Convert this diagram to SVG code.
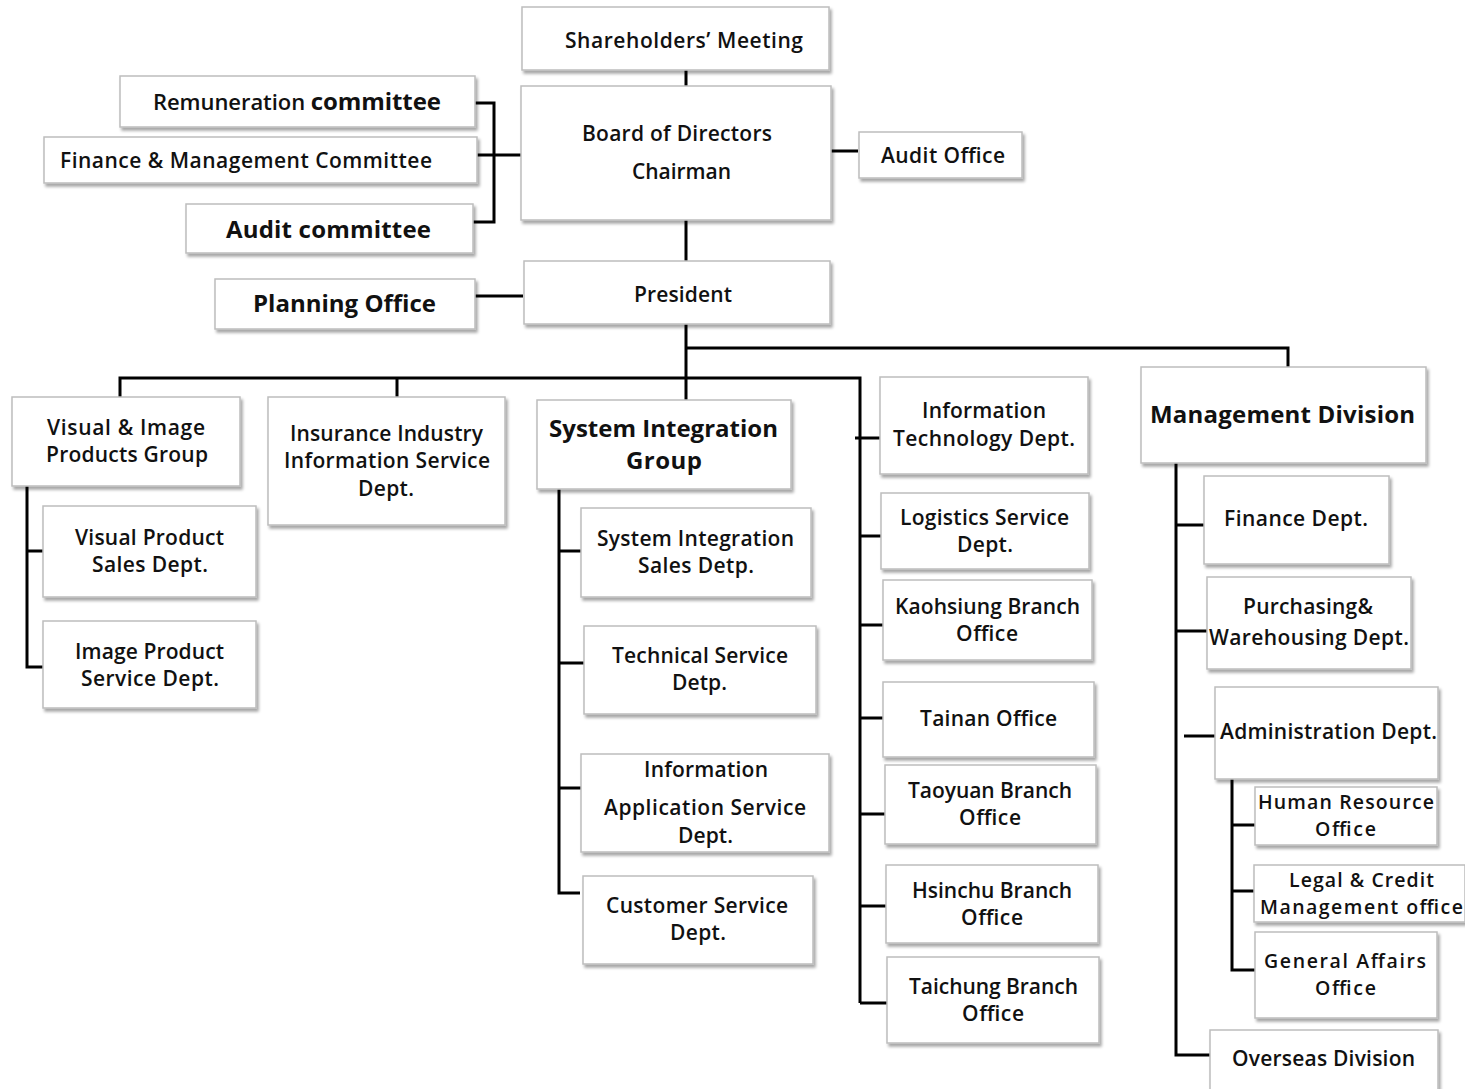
<svg xmlns="http://www.w3.org/2000/svg" width="1465" height="1089" viewBox="0 0 1465 1089">
<defs>
<filter id="sh" x="-10%" y="-10%" width="120%" height="130%">
<feDropShadow dx="2" dy="3" stdDeviation="1.5" flood-color="#000" flood-opacity="0.35"/>
</filter>
</defs>
<style>
.b{fill:#fff;stroke:#bdbdbd;stroke-width:1.5;filter:url(#sh)}
text{font-family:"Open Sans","Liberation Sans",sans-serif;font-size:21px;font-weight:600;fill:#111}
.k{font-weight:700;font-size:24px}
.m{font-size:22px}
.s{font-size:19.5px}
.c{fill:none;stroke:#000;stroke-width:3}
</style>
<rect width="1465" height="1089" fill="#fff"/>
<g id="connectors">
<path class="c" d="M686 70V86M686 220V261M831 151H858M475 103H494V222H473M477 155H521M475 296H523"/>
<path class="c" d="M686 324V400M686 348H1288V367M120 397V378H860V1003M397 378V397"/>
<path class="c" d="M27 486V667H43M27 551H43"/>
<path class="c" d="M559 489V893H580M559 551H581M559 663H584M559 788H581"/>
<path class="c" d="M855 438H880M860 536H881M860 625H883M860 718H883M860 814H885M860 906H886M860 1003H887"/>
<path class="c" d="M1176 463V1055H1210M1176 525H1204M1176 631H1207M1184 736H1215"/>
<path class="c" d="M1232 779V970H1255M1232 825H1255M1232 891H1254"/>
</g>
<g id="n-shareholders"><rect class="b" x="522" y="7" width="307" height="63"/><text x="565" y="48" textLength="238">Shareholders’ Meeting</text></g>
<g id="n-board"><rect class="b" x="521" y="86" width="310" height="134"/><text x="582" y="141" textLength="190">Board of Directors</text><text x="632" y="179" textLength="99">Chairman</text></g>
<g id="n-auditoffice"><rect class="b" x="859" y="132" width="163" height="46"/><text x="881" y="163" textLength="124">Audit Office</text></g>
<g id="n-remuneration"><rect class="b" x="120" y="76" width="355" height="51"/><text class="m" x="153" y="110" textLength="288">Remuneration <tspan style="font-weight:700;font-size:24px">committee</tspan></text></g>
<g id="n-finmgmt"><rect class="b" x="44" y="137" width="433" height="46"/><text x="60" y="168" textLength="372">Finance &amp; Management Committee</text></g>
<g id="n-auditcomm"><rect class="b" x="186" y="204" width="287" height="49"/><text class="k" x="226" y="238" textLength="205">Audit committee</text></g>
<g id="n-planning"><rect class="b" x="215" y="279" width="260" height="50"/><text class="k" x="253" y="312" textLength="183">Planning Office</text></g>
<g id="n-president"><rect class="b" x="524" y="261" width="306" height="63"/><text x="634" y="302" textLength="98">President</text></g>
<g id="n-visualgroup"><rect class="b" x="12" y="397" width="228" height="89"/><text x="47" y="435" textLength="158">Visual &amp; Image</text><text x="46" y="462" textLength="162">Products Group</text></g>
<g id="n-insurance"><rect class="b" x="268" y="397" width="237" height="128"/><text x="290" y="441" textLength="193">Insurance Industry</text><text x="284" y="468" textLength="206">Information Service</text><text x="358" y="496" textLength="56">Dept.</text></g>
<g id="n-visualsales"><rect class="b" x="43" y="506" width="213" height="91"/><text x="75" y="545" textLength="149">Visual Product</text><text x="92" y="572" textLength="116">Sales Dept.</text></g>
<g id="n-imageservice"><rect class="b" x="43" y="621" width="213" height="87"/><text x="75" y="659" textLength="149">Image Product</text><text x="81" y="686" textLength="138">Service Dept.</text></g>
<g id="n-sigroup"><rect class="b" x="537" y="400" width="254" height="89"/><text class="k" x="549" y="437" textLength="229">System Integration</text><text class="k" x="626" y="469" textLength="76">Group</text></g>
<g id="n-sisales"><rect class="b" x="581" y="508" width="230" height="89"/><text x="597" y="546" textLength="197">System Integration</text><text x="638" y="573" textLength="116">Sales Detp.</text></g>
<g id="n-technical"><rect class="b" x="584" y="626" width="232" height="88"/><text x="612" y="663" textLength="176">Technical Service</text><text x="672" y="690" textLength="55">Detp.</text></g>
<g id="n-infoapp"><rect class="b" x="581" y="754" width="248" height="98"/><text x="644" y="777" textLength="124">Information</text><text x="604" y="815" textLength="202">Application Service</text><text x="678" y="843" textLength="55">Dept.</text></g>
<g id="n-customer"><rect class="b" x="583" y="876" width="230" height="88"/><text x="606" y="913" textLength="182">Customer Service</text><text x="670" y="940" textLength="56">Dept.</text></g>
<g id="n-it"><rect class="b" x="880" y="377" width="208" height="97"/><text x="922" y="418" textLength="124">Information</text><text x="893" y="446" textLength="182">Technology Dept.</text></g>
<g id="n-logistics"><rect class="b" x="881" y="493" width="208" height="76"/><text x="900" y="525" textLength="169">Logistics Service</text><text x="957" y="552" textLength="56">Dept.</text></g>
<g id="n-kaohsiung"><rect class="b" x="883" y="580" width="209" height="80"/><text x="895" y="614" textLength="185">Kaohsiung Branch</text><text x="956" y="641" textLength="62">Office</text></g>
<g id="n-tainan"><rect class="b" x="883" y="682" width="211" height="75"/><text x="920" y="726" textLength="137">Tainan Office</text></g>
<g id="n-taoyuan"><rect class="b" x="885" y="765" width="211" height="79"/><text x="908" y="798" textLength="164">Taoyuan Branch</text><text x="959" y="825" textLength="62">Office</text></g>
<g id="n-hsinchu"><rect class="b" x="886" y="865" width="212" height="78"/><text x="912" y="898" textLength="160">Hsinchu Branch</text><text x="961" y="925" textLength="62">Office</text></g>
<g id="n-taichung"><rect class="b" x="887" y="957" width="212" height="86"/><text x="909" y="994" textLength="169">Taichung Branch</text><text x="962" y="1021" textLength="62">Office</text></g>
<g id="n-mgmt"><rect class="b" x="1141" y="367" width="285" height="96"/><text class="k" x="1150" y="423" textLength="265">Management Division</text></g>
<g id="n-finance"><rect class="b" x="1204" y="476" width="185" height="88"/><text x="1224" y="526" textLength="144">Finance  Dept.</text></g>
<g id="n-purchasing"><rect class="b" x="1207" y="577" width="204" height="92"/><text x="1243" y="614" textLength="130">Purchasing&amp;</text><text x="1209" y="645" textLength="200">Warehousing Dept.</text></g>
<g id="n-admin"><rect class="b" x="1215" y="687" width="223" height="92"/><text x="1220" y="739" textLength="217">Administration Dept.</text></g>
<g id="n-hr"><rect class="b" x="1255" y="787" width="182" height="58"/><text class="s" x="1258" y="809" textLength="176">Human Resource</text><text class="s" x="1315" y="836" textLength="61">Office</text></g>
<g id="n-legal"><rect class="b" x="1254" y="865" width="211" height="57"/><text class="s" x="1289" y="887" textLength="145">Legal &amp; Credit</text><text class="s" x="1260" y="914" textLength="203">Management office</text></g>
<g id="n-general"><rect class="b" x="1255" y="932" width="182" height="86"/><text class="s" x="1264" y="968" textLength="162">General  Affairs</text><text class="s" x="1315" y="995" textLength="61">Office</text></g>
<g id="n-overseas"><rect class="b" x="1210" y="1030" width="228" height="62"/><text x="1232" y="1066" textLength="183">Overseas Division</text></g>
</svg>
